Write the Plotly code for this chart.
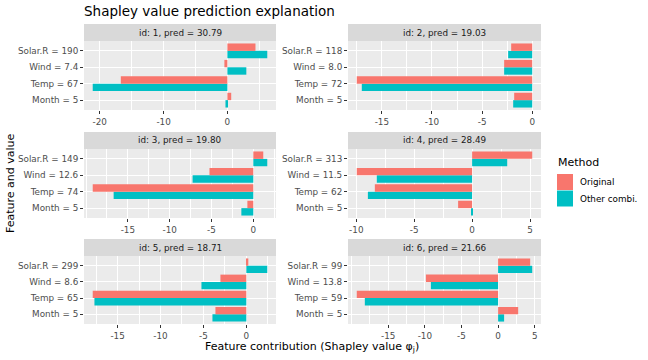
import plotly.graph_objects as go

# ---- data ----
ids = [1, 2, 3, 4, 5, 6]
preds = ["30.79", "19.03", "19.80", "28.49", "18.71", "21.66"]
features = ["Month", "Temp", "Wind", "Solar.R"]  # bottom to top
feature_values = [
    ["5", "67", "7.4", "190"],
    ["5", "72", "8.0", "118"],
    ["5", "74", "12.6", "149"],
    ["5", "62", "11.5", "313"],
    ["5", "65", "8.6", "299"],
    ["5", "59", "13.8", "99"],
]
phi_original = [
    [0.6, -16.7, -0.47, 4.4],
    [-1.8, -17.5, -2.8, -2.1],
    [-0.71, -19.2, -5.24, 1.19],
    [-1.21, -8.4, -9.96, 5.19],
    [-3.6, -17.9, -3.02, 0.23],
    [2.74, -19.3, -9.86, 4.38],
]
phi_other = [
    [-0.3, -21.1, 2.97, 6.25],
    [-1.9, -17.0, -2.8, -2.4],
    [-1.43, -16.7, -7.26, 1.67],
    [-0.05, -9.0, -8.23, 3.03],
    [-3.95, -17.7, -5.23, 2.44],
    [0.82, -18.2, -9.18, 4.66],
]
x_ticks = [
    [-20, -10, 0],
    [-15, -10, -5, 0],
    [-15, -10, -5, 0],
    [-10, -5, 0, 5],
    [-15, -10, -5, 0],
    [-15, -10, -5, 0, 5],
]
methods = ["Original", "Other combi."]
colors = {"Original": "#F8766D", "Other combi.": "#00BFC4"}

W, H = 648, 360
col_px = [(84, 276), (348, 541)]
row_px = [(41, 110), (149, 218), (256, 324)]  # plot area (top, bottom)
strip_h = 17
FONT = "DejaVu Sans"

fig = go.Figure()
layout_axes = {}
annotations = []
shapes = []

for k, pid in enumerate(ids):
    r, c = divmod(k, 2)
    ax = "" if k == 0 else str(k + 1)
    xref, yref = "x" + ax, "y" + ax
    labels = [f"{f} = {v}" for f, v in zip(features, feature_values[k])]
    for m in ["Other combi.", "Original"]:
        vals = phi_original[k] if m == "Original" else phi_other[k]
        fig.add_trace(go.Bar(
            x=vals, y=labels, orientation="h", name=m,
            marker=dict(color=colors[m], line=dict(width=0)),
            xaxis=xref, yaxis=yref, showlegend=False,
        ))
    allv = phi_original[k] + phi_other[k] + [0]
    lo, hi = min(allv), max(allv)
    span = hi - lo
    rng = [lo - 0.05 * span, hi + 0.05 * span]
    tickvals = x_ticks[k]
    step = tickvals[1] - tickvals[0]
    ticktext = [f"{v:g}" for v in tickvals]
    x0, x1 = col_px[c]
    ytop, ybot = row_px[r]
    layout_axes["xaxis" + ax] = dict(
        domain=[x0 / W, x1 / W], anchor=yref, range=rng, automargin=False,
        tickvals=tickvals, ticktext=ticktext,
        showgrid=True, gridcolor="white", gridwidth=1.1,
        minor=dict(dtick=step / 2, tick0=0, showgrid=True, gridcolor="white", gridwidth=0.5),
        zeroline=False, ticks="outside", ticklen=3, tickcolor="#333333", tickwidth=1,
        tickfont=dict(size=8.8, color="#4D4D4D", family=FONT), showline=False,
        fixedrange=True,
    )
    layout_axes["yaxis" + ax] = dict(
        domain=[1 - ybot / H, 1 - ytop / H], anchor=xref, automargin=False,
        categoryorder="array", categoryarray=labels, range=[-0.6, 3.6],
        showgrid=True, gridcolor="white", gridwidth=1.1, zeroline=False,
        ticks="outside", ticklen=3, tickcolor="#333333", tickwidth=1,
        tickfont=dict(size=8.8, color="#4D4D4D", family=FONT), showline=False,
        fixedrange=True,
    )
    shapes.append(dict(type="rect", xref="paper", yref="paper",
                       x0=x0 / W, x1=x1 / W, y0=1 - ybot / H, y1=1 - ytop / H,
                       fillcolor="#EBEBEB", line=dict(width=0), layer="below"))
    shapes.append(dict(type="rect", xref="paper", yref="paper",
                       x0=x0 / W, x1=x1 / W, y0=1 - ytop / H, y1=1 - (ytop - strip_h) / H,
                       fillcolor="#D9D9D9", line=dict(width=0)))
    annotations.append(dict(text=f"id: {pid}, pred = {preds[k]}", xref="paper", yref="paper",
                            x=(x0 + x1) / 2 / W, y=1 - (ytop - strip_h / 2) / H,
                            showarrow=False, xanchor="center", yanchor="middle",
                            font=dict(size=8.8, color="#1A1A1A", family=FONT)))

# legend (keys + text)
annotations.append(dict(text="Method", xref="paper", yref="paper", x=556 / W, y=1 - 163 / H,
                        showarrow=False, xanchor="left", yanchor="middle",
                        font=dict(size=11, color="black", family=FONT)))
for i, m in enumerate(methods):
    ky = 174 + 16.5 * i
    shapes.append(dict(type="rect", xref="paper", yref="paper",
                       x0=557 / W, x1=573 / W, y0=1 - (ky + 16) / H, y1=1 - ky / H,
                       fillcolor=colors[m], line=dict(width=0)))
    annotations.append(dict(text=m, xref="paper", yref="paper", x=578 / W, y=1 - (ky + 8) / H,
                            showarrow=False, xanchor="left", yanchor="middle",
                            font=dict(size=8.8, color="black", family=FONT)))

annotations.append(dict(text="Feature and value", xref="paper", yref="paper",
                        x=10 / W, y=1 - 183 / H, textangle=-90, showarrow=False,
                        xanchor="center", yanchor="middle",
                        font=dict(size=11, color="black", family=FONT)))
annotations.append(dict(text="Feature contribution (Shapley value φ<sub>j</sub>)",
                        xref="paper", yref="paper", x=312 / W, y=1 - 347 / H,
                        showarrow=False, xanchor="center", yanchor="middle",
                        font=dict(size=11, color="black", family=FONT)))

fig.update_layout(
    width=W, height=H, margin=dict(l=0, r=0, t=0, b=0, autoexpand=False),
    paper_bgcolor="white", plot_bgcolor="rgba(0,0,0,0)",
    barmode="group", bargap=0.1, bargroupgap=0,
    font=dict(family=FONT), showlegend=False,
    title=dict(text="Shapley value prediction explanation", x=84 / W, xanchor="left",
               y=1 - 11 / H, yanchor="middle", automargin=False,
               font=dict(size=13.5, color="black", family=FONT)),
    shapes=shapes, annotations=annotations,
    **layout_axes,
)

fig.write_html("out.html", config={"displayModeBar": False},
               post_script="document.body.style.margin='0px';document.body.style.overflow='hidden';")
